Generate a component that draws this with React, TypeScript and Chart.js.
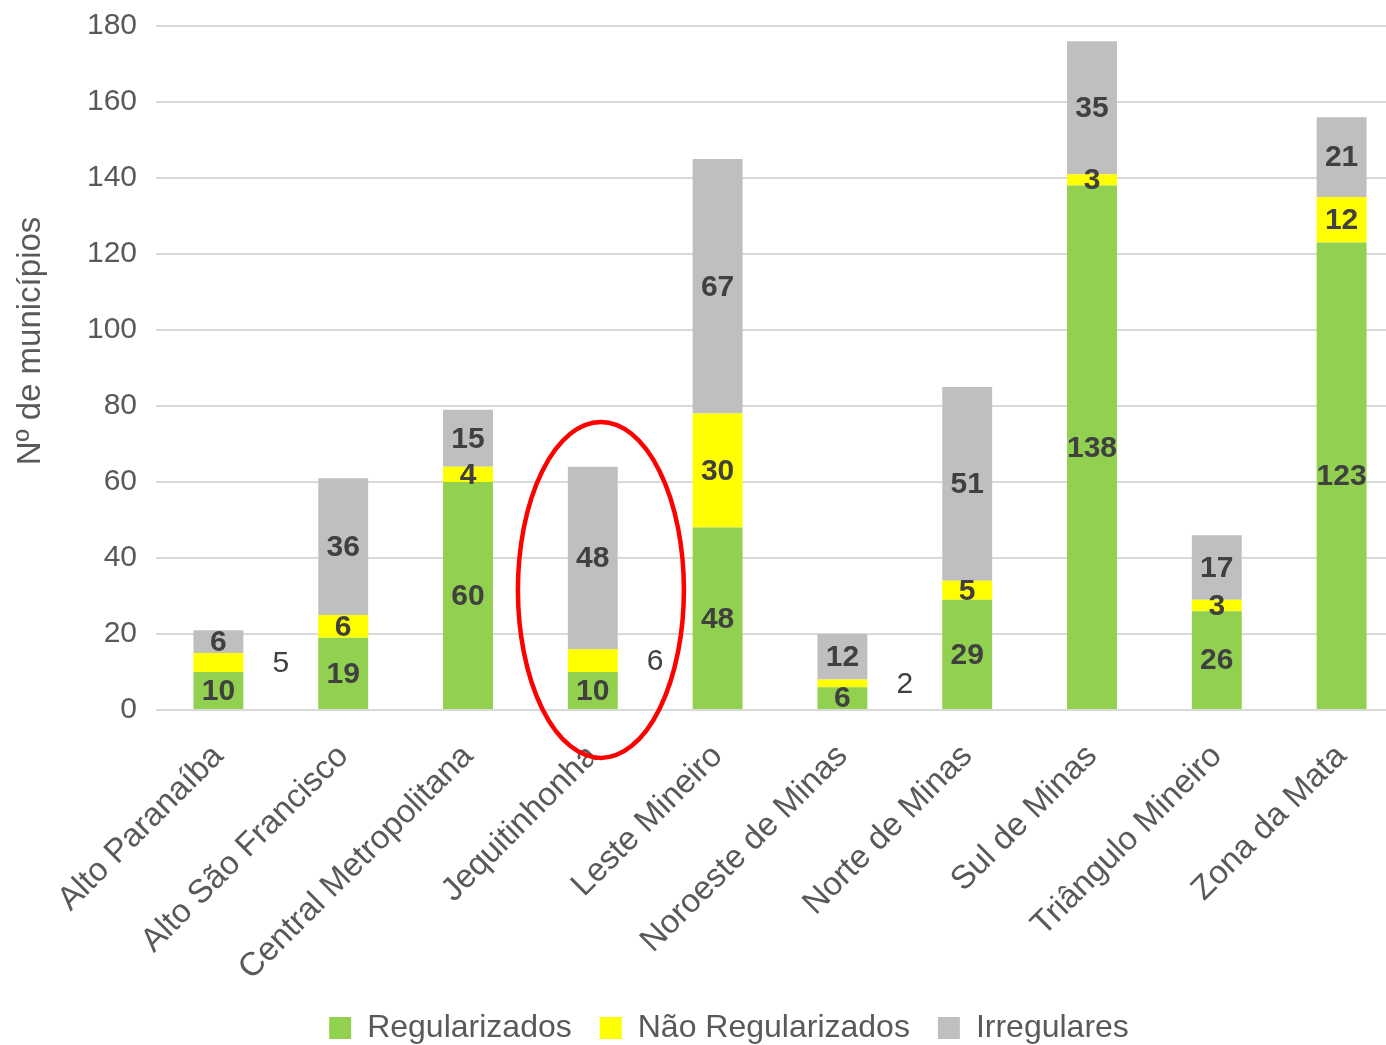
import React, { useEffect, useRef } from "react";
import { Chart, registerables } from "chart.js";

Chart.register(...registerables);

// ---- data ----
const categories = [
  "Alto Paranaíba",
  "Alto São Francisco",
  "Central Metropolitana",
  "Jequitinhonha",
  "Leste Mineiro",
  "Noroeste de Minas",
  "Norte de Minas",
  "Sul de Minas",
  "Triângulo Mineiro",
  "Zona da Mata",
];
const regularizados = [10, 19, 60, 10, 48, 6, 29, 138, 26, 123];
const naoRegularizados = [5, 6, 4, 6, 30, 2, 5, 3, 3, 12];
const irregulares = [6, 36, 15, 48, 67, 12, 51, 35, 17, 21];
const seriesNames = ["Regularizados", "Não Regularizados", "Irregulares"];
const seriesColors = ["#92D050", "#FFFF00", "#BFBFBF"];
const yAxisTitle = "Nº de municípios";
const yMin = 0;
const yMax = 180;
const yStep = 20;
// labels drawn beside the bar instead of inside (series index -> category indices)
const outsideLabels: Record<number, number[]> = { 1: [0, 3, 5] };
// highlighted category (red ellipse)
const highlightIndex = 3;

// ---- style / layout ----
const FONT = "'Liberation Sans', Arial, Helvetica, sans-serif";
const TEXT = "#595959";
const LABEL = "#404040";
const CANVAS_W = 1458;
const CANVAS_H = 1054;
const VIEW_W = 1386;
const VIEW_H = 1045;
const PLOT_BOTTOM = 710;

const segmentLabels = {
  id: "segmentLabels",
  afterDatasetsDraw(chart: any) {
    const ctx = chart.ctx;
    const xs = chart.scales.x;
    const step = xs.getPixelForValue(1) - xs.getPixelForValue(0);
    ctx.save();
    ctx.textAlign = "center";
    ctx.textBaseline = "middle";
    ctx.fillStyle = LABEL;
    chart.data.datasets.forEach((ds: any, di: number) => {
      const meta = chart.getDatasetMeta(di);
      meta.data.forEach((el: any, i: number) => {
        const { x, y, base } = el.getProps(["x", "y", "base"], true);
        const outside = (outsideLabels[di] || []).includes(i);
        ctx.font = `${outside ? "normal" : "bold"} 30px ${FONT}`;
        ctx.fillText(String(ds.data[i]), outside ? x + step / 2 : x, (y + base) / 2 + 1);
      });
    });
    ctx.restore();
  },
};

const extras = {
  id: "extras",
  afterDraw(chart: any) {
    const ctx = chart.ctx;
    const xs = chart.scales.x;
    const ys = chart.scales.y;
    const step = xs.getPixelForValue(1) - xs.getPixelForValue(0);
    // highlight ellipse
    const cx = xs.getPixelForValue(highlightIndex) + step * 0.065;
    const cy = ys.getPixelForValue(31.6);
    const rx = step * 0.665;
    const ry = ys.getPixelForValue(0) - ys.getPixelForValue(44.2);
    ctx.save();
    ctx.strokeStyle = "#FF0000";
    ctx.lineWidth = 4.5;
    ctx.beginPath();
    ctx.ellipse(cx, cy, rx, ry, 0, 0, Math.PI * 2);
    ctx.stroke();
    ctx.restore();
    // y axis title
    const ca = chart.chartArea;
    ctx.save();
    ctx.translate(ys.left + 31, (ca.top + ca.bottom) / 2 - 27);
    ctx.rotate(-Math.PI / 2);
    ctx.font = `33px ${FONT}`;
    ctx.fillStyle = TEXT;
    ctx.textAlign = "center";
    ctx.textBaseline = "middle";
    ctx.fillText(yAxisTitle, 0, 0);
    ctx.restore();
  },
};

export default function App() {
  const ref = useRef<HTMLCanvasElement | null>(null);

  useEffect(() => {
    if (!ref.current) return;
    const series = [regularizados, naoRegularizados, irregulares];
    const chart = new Chart(ref.current, {
      type: "bar",
      data: {
        labels: categories,
        datasets: series.map((d, i) => ({
          label: seriesNames[i],
          data: d,
          backgroundColor: seriesColors[i],
          borderWidth: 0,
          categoryPercentage: 1,
          barPercentage: 0.4,
          stack: "s",
        })),
      },
      options: {
        animation: false,
        responsive: false,
        devicePixelRatio: 1,
        layout: { padding: { top: 26, left: 0, right: 0, bottom: 0 } },
        plugins: {
          legend: {
            position: "bottom",
            labels: {
              font: { family: FONT, size: 32 },
              color: TEXT,
              boxWidth: 22,
              boxHeight: 22,
              padding: 28,
            },
          },
          tooltip: { enabled: false },
        },
        scales: {
          x: {
            stacked: true,
            grid: { display: false, drawTicks: false },
            border: { display: false },
            ticks: {
              autoSkip: false,
              minRotation: 45,
              maxRotation: 45,
              padding: 27,
              color: TEXT,
              font: { family: FONT, size: 33 },
            },
            afterFit: (s: any) => {
              const lh = s.chart.legend ? s.chart.legend.height : 0;
              s.height = CANVAS_H - PLOT_BOTTOM - lh;
            },
          },
          y: {
            stacked: true,
            min: yMin,
            max: yMax,
            grid: { color: "#D9D9D9", lineWidth: 2, drawTicks: false },
            border: { display: false },
            ticks: {
              stepSize: yStep,
              padding: 19,
              color: TEXT,
              font: { family: FONT, size: 30 },
            },
            afterFit: (s: any) => {
              s.width = 156;
              s.paddingTop = 0;
              s.paddingBottom = 0;
            },
          },
          yRight: {
            type: "linear",
            position: "right",
            display: true,
            grid: { display: false },
            border: { display: false },
            ticks: { display: false },
            afterFit: (s: any) => {
              s.width = 54;
              s.paddingTop = 0;
              s.paddingBottom = 0;
            },
          },
        },
      } as any,
      plugins: [segmentLabels, extras],
    });
    return () => chart.destroy();
  }, []);

  return (
    <div
      style={{
        position: "fixed",
        left: 0,
        top: 0,
        width: VIEW_W,
        height: VIEW_H,
        overflow: "hidden",
        background: "#fff",
      }}
    >
      <canvas
        ref={ref}
        width={CANVAS_W}
        height={CANVAS_H}
        style={{ display: "block", width: CANVAS_W, height: CANVAS_H }}
      />
    </div>
  );
}
